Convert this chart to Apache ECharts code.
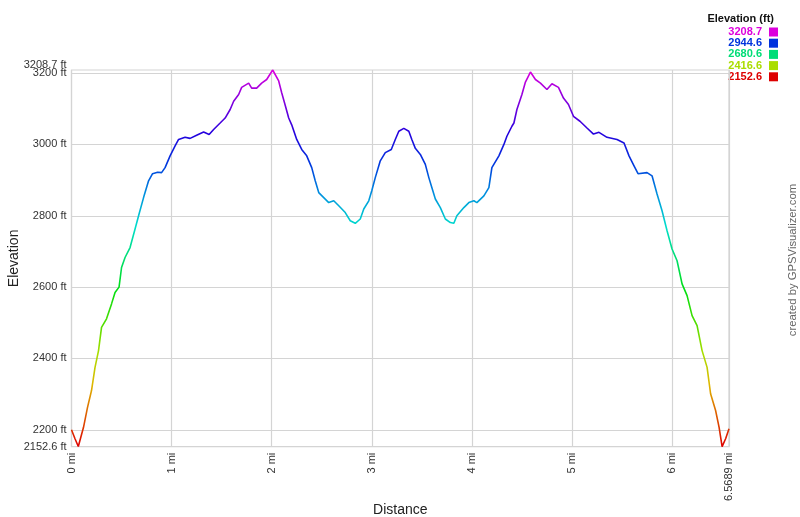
<!DOCTYPE html>
<html>
<head>
<meta charset="utf-8">
<script src="https://cdn.jsdelivr.net/npm/echarts@6/dist/echarts.min.js"></script>
<style>
html,body{margin:0;padding:0;background:#fff;}
#chart{width:800px;height:517px;}
</style>
</head>
<body>
<div id="chart"></div>
<script>
// Distance along track (mi)
var distance = [0, 0.035, 0.068, 0.12, 0.16, 0.20, 0.235, 0.27, 0.30, 0.35, 0.40, 0.435, 0.475, 0.50, 0.535, 0.585, 0.635, 0.675, 0.72, 0.77, 0.81, 0.86, 0.90, 0.935, 0.985,
  1.035, 1.07, 1.135, 1.185, 1.25, 1.32, 1.375, 1.42, 1.485, 1.535, 1.585, 1.62, 1.67, 1.70, 1.77, 1.80, 1.85, 1.90, 1.95, 2.01,
  2.07, 2.10, 2.135, 2.17, 2.20, 2.25, 2.30, 2.35, 2.40, 2.435, 2.47, 2.52, 2.57, 2.62, 2.67, 2.735, 2.785, 2.835, 2.885, 2.92, 2.97,
  3.00, 3.035, 3.085, 3.135, 3.195, 3.235, 3.27, 3.32, 3.37, 3.40, 3.435, 3.485, 3.535, 3.57, 3.60, 3.635, 3.685, 3.735, 3.785, 3.82, 3.85, 3.92, 3.97,
  4.02, 4.05, 4.12, 4.17, 4.20, 4.27, 4.32, 4.35, 4.40, 4.42, 4.45, 4.50, 4.535, 4.585, 4.635, 4.685, 4.75, 4.80, 4.865, 4.915, 4.965,
  5.015, 5.08, 5.15, 5.215, 5.27, 5.35, 5.45, 5.52, 5.57, 5.62, 5.66, 5.75, 5.80, 5.85, 5.90, 5.95,
  6.00, 6.05, 6.10, 6.15, 6.20, 6.25, 6.30, 6.35, 6.385, 6.435, 6.47, 6.50, 6.535, 6.5689];
// Elevation (ft)
var elevation = [2200, 2175, 2153, 2207, 2263, 2310, 2375, 2422, 2487, 2511, 2553, 2585, 2600, 2655, 2683, 2711, 2763, 2805, 2851, 2898, 2918, 2922, 2921, 2935, 2968,
  2996, 3014, 3020, 3017, 3026, 3035, 3028, 3042, 3060, 3074, 3098, 3121, 3140, 3160, 3172, 3158, 3158, 3172, 3182, 3208.7,
  3178, 3145, 3110, 3074, 3055, 3014, 2986, 2968, 2935, 2898, 2865, 2851, 2837, 2842, 2828, 2809, 2786, 2779, 2791, 2819, 2842,
  2870, 2907, 2954, 2977, 2986, 3014, 3037, 3045, 3037, 3014, 2989, 2972, 2944, 2907, 2879, 2847, 2823, 2791, 2781, 2779, 2800, 2823, 2837,
  2842, 2837, 2856, 2879, 2935, 2968, 3000, 3023, 3051, 3060, 3098, 3140, 3175, 3203, 3182, 3172, 3154, 3170, 3160, 3130, 3112,
  3079, 3065, 3046, 3029, 3034, 3020, 3014, 3004, 2968, 2940, 2918, 2921, 2912, 2861, 2814, 2758,
  2707, 2674, 2609, 2576, 2520, 2492, 2422, 2375, 2301, 2254, 2207, 2153, 2175, 2203];

var elevMin = 2152.6, elevMax = 3208.7, distMax = 6.5689;
var yTicks = [2152.6, 2200, 2400, 2600, 2800, 3000, 3200];
var xTicks = [0, 1, 2, 3, 4, 5, 6, 6.5689];
var legendValues = ['3208.7', '2944.6', '2680.6', '2416.6', '2152.6'];
var legendColors = ['#dd00dd', '#0033dd', '#00dd77', '#aadd00', '#dd0000'];
// colour ramp (hue sweep red -> magenta)
var rampColors = ['#de0000', '#de5c00', '#deb900', '#a6de00', '#4ade00', '#00de12', '#00de6f', '#00decb', '#0094de', '#0038de', '#2500de', '#8200de', '#de00de'];

var points = distance.map(function (d, i) { return [d, elevation[i]]; });

var font = 'Liberation Sans, Arial, sans-serif';
var graphics = [
  { type: 'text', x: 774, y: 19, style: { text: 'Elevation (ft)', font: 'bold 11px ' + font, fill: '#111', align: 'right', verticalAlign: 'middle' } },
  { type: 'text', x: 793, y: 260, rotation: Math.PI / 2, style: { text: 'created by GPSVisualizer.com', font: '11.3px ' + font, fill: '#666', align: 'center', verticalAlign: 'middle' } }
];
legendValues.forEach(function (v, i) {
  var y = 32 + i * 11.2;
  graphics.push({ type: 'text', x: 762, y: y, style: { text: v, font: 'bold 11px ' + font, fill: legendColors[i], align: 'right', verticalAlign: 'middle' } });
  graphics.push({ type: 'rect', shape: { x: 769, y: y - 4.5, width: 9, height: 9 }, style: { fill: legendColors[i] } });
});

var chart = echarts.init(document.getElementById('chart'), null, { renderer: 'canvas' });
chart.setOption({
  animation: false,
  backgroundColor: '#fff',
  textStyle: { fontFamily: font },
  grid: { left: 71.5, right: 71, top: 70, bottom: 70.3, outerBoundsMode: 'none', containLabel: false,
    show: true, borderColor: '#d4d4d4', borderWidth: 1.2, backgroundColor: 'transparent' },
  xAxis: {
    type: 'value', min: 0, max: distMax,
    name: 'Distance', nameLocation: 'middle', nameGap: 56, nameMoveOverlap: false,
    nameTextStyle: { fontSize: 14, color: '#222', fontFamily: font },
    axisLine: { show: false }, axisTick: { show: false, customValues: xTicks },
    axisLabel: { customValues: xTicks, rotate: 90, margin: 6, fontSize: 11, color: '#333', fontFamily: font,
      formatter: function (v) { return v + ' mi'; } },
    splitLine: { show: true, lineStyle: { color: '#d4d4d4', width: 1.2 } }
  },
  yAxis: [{
    type: 'value', min: elevMin, max: elevMax,
    name: 'Elevation', nameLocation: 'middle', nameGap: 50, nameMoveOverlap: false,
    nameTextStyle: { fontSize: 14, color: '#222', fontFamily: font },
    axisLine: { show: false }, axisTick: { show: false, customValues: yTicks },
    axisLabel: { customValues: yTicks, margin: 5, fontSize: 11, color: '#333', fontFamily: font,
      formatter: function (v) { return v + ' ft'; } },
    splitLine: { show: true, lineStyle: { color: '#d4d4d4', width: 1.2 } }
  }, {
    type: 'value', min: elevMin, max: elevMax, position: 'left',
    axisLine: { show: false }, axisTick: { show: false, customValues: [elevMax] },
    axisLabel: { customValues: [elevMax], margin: 5, fontSize: 11, color: '#333', fontFamily: font, verticalAlign: 'bottom',
      formatter: function (v) { return v + ' ft'; } },
    splitLine: { show: false }
  }],
  visualMap: {
    show: false, type: 'continuous', dimension: 1, seriesIndex: 0,
    min: elevMin, max: elevMax, inRange: { color: rampColors }
  },
  series: [{
    type: 'line', data: points, showSymbol: false, smooth: false,
    lineStyle: { width: 1.6 }
  }],
  graphic: graphics
});
</script>
</body>
</html>
